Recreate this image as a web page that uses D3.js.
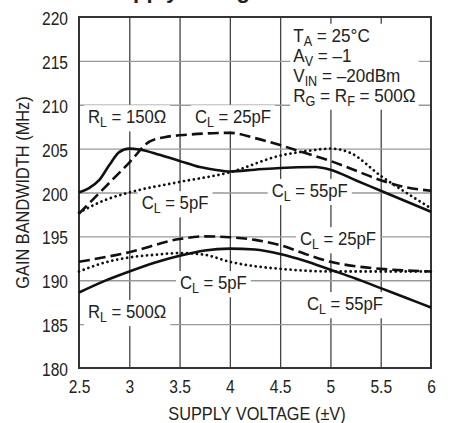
<!DOCTYPE html>
<html>
<head>
<meta charset="utf-8">
<script src="https://cdn.jsdelivr.net/npm/d3@7"></script>
<style>
  body { margin: 0; background: #fff; }
  text { font-family: 'Liberation Sans', Arial, sans-serif; fill: #222; }
</style>
</head>
<body>
<div id="chart"></div>
<script>
// supply voltage (±V) vs gain bandwidth (MHz)
const xTicks = [2.5, 3, 3.5, 4, 4.5, 5, 5.5, 6];
const yTicks = [180, 185, 190, 195, 200, 205, 210, 215, 220];

// R_L = 150 ohm
const rl150Cl55 = [[2.5,200.0],[2.6,200.5],[2.7,201.4],[2.8,203.1],[2.9,204.6],[3.0,205.0],[3.1,204.9],
  [3.3,204.3],[3.5,203.6],[3.7,202.9],[3.85,202.6],[4.0,202.4],[4.25,202.6],[4.5,202.8],[4.85,202.9],
  [5.0,202.6],[5.25,201.4],[5.5,200.2],[5.75,199.0],[6.0,197.8]];
const rl150Cl25 = [[2.5,197.6],[2.75,200.5],[3.0,203.4],[3.2,205.8],[3.35,206.3],[3.6,206.6],[4.0,206.8],
  [4.25,206.2],[4.5,205.4],[4.75,204.5],[5.0,203.6],[5.25,202.5],[5.5,201.4],[5.75,200.6],[6.0,200.2]];
const rl150Cl5 = [[2.5,197.7],[2.75,199.1],[3.0,200.0],[3.5,201.2],[4.0,202.3],[4.5,204.2],[4.75,204.7],
  [5.0,205.0],[5.2,204.5],[5.5,201.9],[5.75,200.0],[6.0,198.2]];

// R_L = 500 ohm
const rl500Cl55 = [[2.5,188.6],[2.75,189.9],[3.0,191.0],[3.25,192.0],[3.5,192.8],[3.75,193.4],[4.0,193.6],
  [4.25,193.5],[4.5,193.0],[4.75,192.2],[5.0,191.2],[5.25,190.2],[5.5,189.1],[5.75,188.0],[6.0,186.9]];
const rl500Cl25 = [[2.5,192.1],[3.0,193.2],[3.5,194.7],[3.75,195.0],[4.0,194.9],[4.25,194.6],[4.5,194.0],
  [4.75,193.0],[5.0,192.1],[5.25,191.6],[5.5,191.3],[6.0,191.0]];
const rl500Cl5 = [[2.5,191.0],[2.75,192.0],[3.0,192.6],[3.25,192.9],[3.5,193.1],[3.75,192.9],[4.0,192.1],
  [4.25,191.6],[4.5,191.3],[5.0,191.0],[6.0,191.0]];

const width = 461, height = 423;
const plot = { left: 79, right: 431, top: 17, bottom: 368 };
// fake a condensed face by squeezing Liberation Sans
const squeezeTicks = 0.82, squeezeTitle = 0.86, squeezeLabel = 0.88, squeezeCond = 0.9;

const svg = d3.select('#chart').append('svg')
    .attr('width', width)
    .attr('height', height);

const x = d3.scaleLinear().domain([2.5, 6]).range([plot.left, plot.right]);
const y = d3.scaleLinear().domain([180, 220]).range([plot.bottom, plot.top]);

// cut-off title at the very top
svg.append('text')
    .attr('x', 105).attr('y', -2)
    .style('font-weight', 'bold')
    .style('font-size', '22px')
    .text('Supply Voltage');

// grid
const grid = svg.append('g');
grid.append('g')
    .attr('transform', `translate(0,${plot.bottom})`)
    .call(d3.axisBottom(x).tickValues(xTicks.slice(1, -1)).tickSize(-(plot.bottom - plot.top)).tickFormat(''))
    .call(g => g.select('.domain').remove())
    .call(g => g.selectAll('line').attr('stroke', '#444').attr('stroke-width', 1.3));
grid.append('g')
    .attr('transform', `translate(${plot.left},0)`)
    .call(d3.axisLeft(y).tickValues(yTicks.slice(1, -1)).tickSize(-(plot.right - plot.left)).tickFormat(''))
    .call(g => g.select('.domain').remove())
    .call(g => g.selectAll('line').attr('stroke', '#999').attr('stroke-width', 1.4));

const bgLayer = svg.append('g');

svg.append('rect')
    .attr('x', plot.left).attr('y', plot.top)
    .attr('width', plot.right - plot.left).attr('height', plot.bottom - plot.top)
    .attr('fill', 'none').attr('stroke', '#333').attr('stroke-width', 2);

// axes labels
svg.append('g')
    .attr('transform', `translate(0,${plot.bottom})`)
    .call(d3.axisBottom(x).tickValues(xTicks).tickSize(0).tickPadding(12).tickFormat(d3.format('')))
    .call(g => g.select('.domain').remove())
    .call(g => g.selectAll('text').style('font-size', '19px').attr('fill', '#222')
        .style('font-family', null).attr('transform', `scale(${squeezeTicks},1)`));

svg.append('g')
    .attr('transform', `translate(${plot.left},0)`)
    .call(d3.axisLeft(y).tickValues(yTicks).tickSize(0).tickPadding(11 / squeezeTicks))
    .call(g => g.select('.domain').remove())
    .call(g => g.selectAll('text').style('font-size', '19px').attr('fill', '#222').attr('dy', '0.4em')
        .style('font-family', null).attr('transform', `scale(${squeezeTicks},1)`));

svg.append('text')
    .attr('transform', `translate(${(plot.left + plot.right) / 2 + 2},420) scale(${squeezeTitle},1)`)
    .attr('text-anchor', 'middle')
    .style('font-size', '19px')
    .text('SUPPLY VOLTAGE (±V)');

svg.append('text')
    .attr('transform', `translate(29,${(plot.top + plot.bottom) / 2}) rotate(-90) scale(${squeezeTitle},1)`)
    .attr('text-anchor', 'middle')
    .style('font-size', '19px')
    .text('GAIN BANDWIDTH (MHz)');

// curves
const line = d3.line()
    .x(d => x(d[0]))
    .y(d => y(d[1]))
    .curve(d3.curveMonotoneX);

const styles = {
    solid: null,
    dashed: '11 5',
    dotted: '0.01 5'
};
const series = [
    [rl150Cl55, 'solid'], [rl150Cl25, 'dashed'], [rl150Cl5, 'dotted'],
    [rl500Cl55, 'solid'], [rl500Cl25, 'dashed'], [rl500Cl5, 'dotted']
];
svg.append('g').selectAll('path')
    .data(series)
    .enter().append('path')
    .attr('d', d => line(d[0]))
    .attr('fill', 'none')
    .attr('stroke', '#111')
    .attr('stroke-width', d => d[1] === 'dotted' ? 2.8 : 2.6)
    .attr('stroke-linecap', d => d[1] === 'dotted' ? 'round' : 'butt')
    .attr('stroke-dasharray', d => styles[d[1]]);

// text with subscripts, squeezed horizontally; returns its box in page pixels
function richText(px, py, parts, squeeze) {
    const t = svg.append('text')
        .attr('transform', `translate(${px},${py}) scale(${squeeze},1)`)
        .style('font-size', '19px');
    let shifted = false;
    parts.forEach(p => {
        const isSub = p[1];
        const span = t.append('tspan').text(p[0]);
        if (isSub && !shifted) { span.attr('dy', 4).style('font-size', '14px'); shifted = true; }
        else if (isSub) { span.style('font-size', '14px'); }
        else if (shifted) { span.attr('dy', -4); shifted = false; }
    });
    const b = t.node().getBBox();
    return { x: px + b.x * squeeze, y: py + b.y, width: b.width * squeeze, height: b.height };
}

function label(v, mhz, parts) {
    const b = richText(x(v), y(mhz), parts, squeezeLabel);
    bgLayer.append('rect')
        .attr('x', b.x - 4).attr('y', b.y - 1)
        .attr('width', b.width + 8).attr('height', b.height + 2)
        .attr('fill', '#fff');
}

label(2.59, 207.9, [['R'], ['L', true], [' = 150Ω']]);
label(3.653, 207.9, [['C'], ['L', true], [' = 25pF']]);
label(3.123, 198.1, [['C'], ['L', true], [' = 5pF']]);
label(4.416, 199.5, [['C'], ['L', true], [' = 55pF']]);
label(4.697, 194.0, [['C'], ['L', true], [' = 25pF']]);
label(3.504, 189.0, [['C'], ['L', true], [' = 5pF']]);
label(2.59, 185.7, [['R'], ['L', true], [' = 500Ω']]);
label(4.767, 186.6, [['C'], ['L', true], [' = 55pF']]);

// conditions box
const conds = [
    [['T'], ['A', true], [' = 25°C']],
    [['A'], ['V', true], [' = –1']],
    [['V'], ['IN', true], [' = –20dBm']],
    [['R'], ['G', true], [' = R'], ['F', true], [' = 500Ω']]
];
const boxX = x(4.63), boxY = y(217.2);
let x0 = Infinity, y0 = Infinity, x1 = -Infinity, y1 = -Infinity;
conds.forEach((c, i) => {
    const b = richText(boxX, boxY + i * 20, c, squeezeCond);
    x0 = Math.min(x0, b.x); y0 = Math.min(y0, b.y);
    x1 = Math.max(x1, b.x + b.width); y1 = Math.max(y1, b.y + b.height);
});
bgLayer.append('rect')
    .attr('x', x0 - 3).attr('y', y0 - 1)
    .attr('width', x1 - x0 + 6).attr('height', y1 - y0 + 2)
    .attr('fill', '#fff');
</script>
</body>
</html>
